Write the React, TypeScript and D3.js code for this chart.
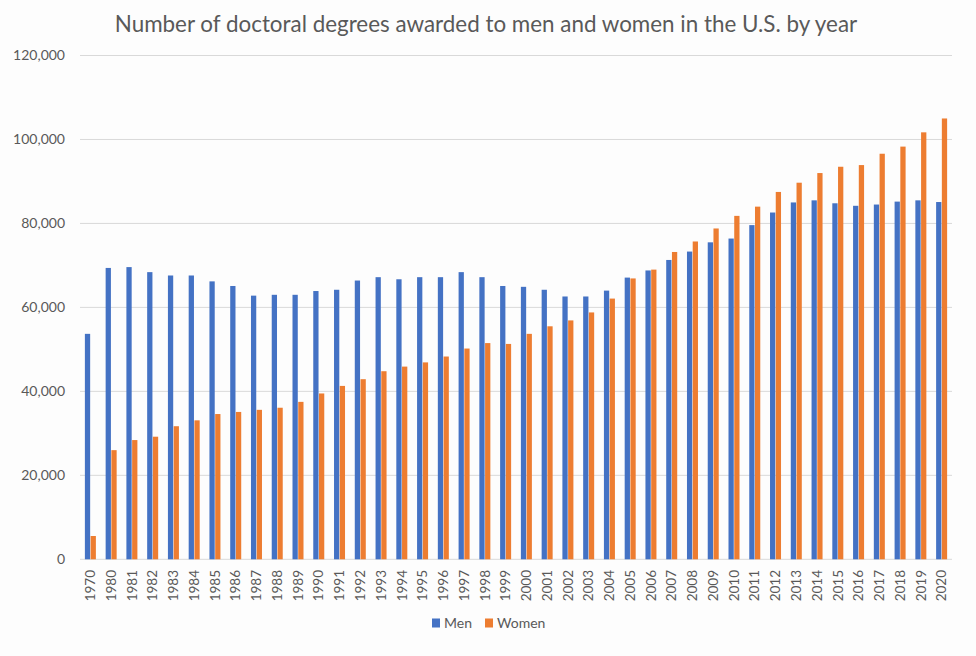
import React, { useEffect, useRef } from 'react';
import * as d3 from 'd3';

const years = ['1970', ...d3.range(1980, 2021).map(String)];

const men = [
  53700, 69400, 69600, 68400, 67600, 67600, 66200, 65100, 62800, 63000, 63000,
  63900, 64200, 66400, 67200, 66700, 67200, 67200, 68400, 67200, 65100, 64900,
  64200, 62600, 62600, 64000, 67100, 68800, 71300, 73300, 75500, 76400, 79600,
  82600, 85000, 85500, 84800, 84200, 84500, 85200, 85500, 85100,
];

const women = [
  5550, 26000, 28400, 29200, 31700, 33100, 34600, 35100, 35600, 36100, 37500,
  39500, 41300, 42900, 44800, 45900, 46900, 48300, 50200, 51500, 51300, 53700,
  55500, 56900, 58800, 62100, 66900, 69000, 73200, 75700, 78800, 81800, 84000,
  87500, 89700, 92000, 93500, 93900, 96600, 98300, 101700, 105000,
];

const seriesNames = ['Men', 'Women'];
const seriesColors = ['#4472C4', '#ED7D31'];
const yTicks = [0, 20000, 40000, 60000, 80000, 100000, 120000];
const title = 'Number of doctoral degrees awarded to men and women in the U.S. by year';

const W = 976;
const H = 656;

const App: React.FC = () => {
  const svgRef = useRef<SVGSVGElement | null>(null);

  useEffect(() => {
    document.body.style.margin = '0';
    const svg = d3.select(svgRef.current);
    svg.selectAll('*').remove();

    const left = 80, right = 952, top = 55.5, bottom = 559.3;
    const font = 'Lato, "Open Sans", sans-serif';

    const x0 = d3.scaleBand<string>()
      .domain(years)
      .range([left, right])
      .paddingInner(0.47)
      .paddingOuter(0.235);

    const x1 = d3.scaleBand<string>()
      .domain(seriesNames)
      .range([0, x0.bandwidth()])
      .paddingInner(0.08);

    const y = d3.scaleLinear().domain([0, 120000]).range([bottom, top]);

    svg.append('rect').attr('width', W).attr('height', H).attr('fill', '#fdfdfd');

    // title
    svg.append('text')
      .attr('x', 486)
      .attr('y', 32)
      .attr('text-anchor', 'middle')
      .attr('font-family', font)
      .attr('font-size', 22.4)
      .attr('fill', '#595959')
      .text(title);

    // gridlines + y labels
    const grid = svg.append('g');
    grid.selectAll('line')
      .data(yTicks)
      .enter().append('line')
      .attr('x1', left)
      .attr('x2', right)
      .attr('y1', d => y(d))
      .attr('y2', d => y(d))
      .attr('stroke', '#d9d9d9')
      .attr('stroke-width', 1);

    grid.selectAll('text')
      .data(yTicks)
      .enter().append('text')
      .attr('x', 65)
      .attr('y', d => y(d))
      .attr('dy', '0.35em')
      .attr('text-anchor', 'end')
      .attr('font-family', font)
      .attr('font-size', 14)
      .attr('fill', '#595959')
      .text(d => d3.format(',')(d));

    // bars
    const data = years.map((yr, i) => ({ year: yr, values: [men[i], women[i]] }));
    const groups = svg.append('g')
      .selectAll('g')
      .data(data)
      .enter().append('g')
      .attr('transform', d => `translate(${x0(d.year)},0)`);

    groups.selectAll('rect')
      .data(d => d.values.map((v, k) => ({ key: seriesNames[k], value: v, color: seriesColors[k] })))
      .enter().append('rect')
      .attr('x', d => x1(d.key) as number)
      .attr('width', x1.bandwidth())
      .attr('y', d => y(d.value))
      .attr('height', d => y(0) - y(d.value))
      .attr('fill', d => d.color);

    // x labels
    svg.append('g')
      .selectAll('text')
      .data(years)
      .enter().append('text')
      .attr('transform', d => `translate(${(x0(d) as number) + x0.bandwidth() / 2},570) rotate(-90)`)
      .attr('dy', '0.35em')
      .attr('text-anchor', 'end')
      .attr('font-family', font)
      .attr('font-size', 13.5)
      .attr('fill', '#595959')
      .text(d => d);

    // legend
    const legend = svg.append('g').attr('transform', 'translate(432,623)');
    const items = legend.selectAll('g')
      .data(seriesNames)
      .enter().append('g')
      .attr('transform', (d, i) => `translate(${i * 53},0)`);
    items.append('rect')
      .attr('x', 0)
      .attr('y', -4.5)
      .attr('width', 8)
      .attr('height', 9)
      .attr('fill', (d, i) => seriesColors[i]);
    items.append('text')
      .attr('x', 12)
      .attr('dy', '0.35em')
      .attr('font-family', font)
      .attr('font-size', 14)
      .attr('fill', '#595959')
      .text(d => d);
  }, []);

  return <svg ref={svgRef} width={W} height={H} style={{ display: 'block' }}></svg>;
};

export default App;
